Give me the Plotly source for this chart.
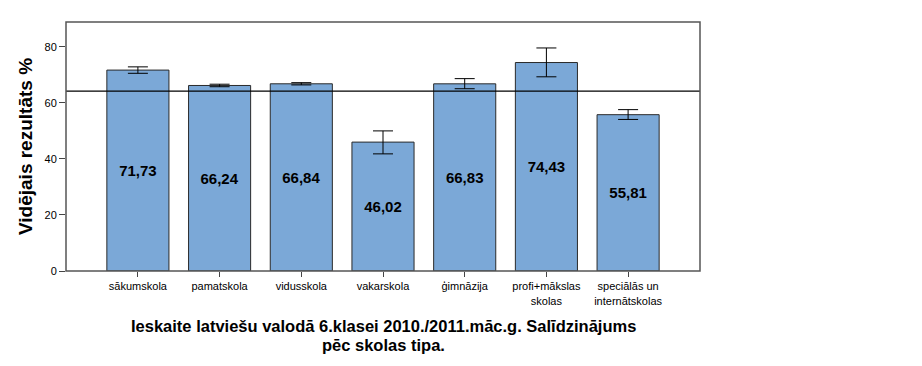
import plotly.graph_objects as go

categories = ["sākumskola", "pamatskola", "vidusskola", "vakarskola", "ģimnāzija",
              "profi+mākslas<br>skolas", "speciālās un<br>internātskolas"]
means = [71.73, 66.24, 66.84, 46.02, 66.83, 74.43, 55.81]
err_plus = [1.15, 0.45, 0.4, 4.0, 1.85, 5.2, 1.8]
err_minus = [1.15, 0.45, 0.4, 4.2, 1.75, 5.1, 1.7]
labels = ["71,73", "66,24", "66,84", "46,02", "66,83", "74,43", "55,81"]
overall_mean = 64.2
y_ticks = [0, 20, 40, 60, 80]
title_lines = ["Ieskaite latviešu valodā 6.klasei 2010./2011.māc.g. Salīdzinājums",
               "pēc skolas tipa."]

x = list(range(len(categories)))
FONT = "Liberation Sans, Arial"

fig = go.Figure()
fig.add_trace(go.Bar(
    x=x, y=means, width=0.76,
    marker=dict(color="#7ba8d7", line=dict(color="#2a2a2a", width=1)),
    text=["<b>" + t + "</b>" for t in labels], textposition="inside", insidetextanchor="middle",
    textfont=dict(family=FONT, size=15, color="black"),
    error_y=dict(type="data", symmetric=False, array=err_plus, arrayminus=err_minus,
                 color="black", thickness=1, width=10),
    hoverinfo="skip",
))
fig.add_shape(type="line", xref="paper", x0=0, x1=1, yref="y", y0=overall_mean, y1=overall_mean,
              line=dict(color="black", width=1.2))
fig.add_shape(type="rect", xref="paper", yref="paper", x0=0, x1=1, y0=0, y1=1,
              line=dict(color="#555555", width=1.5))

fig.update_layout(
    width=914, height=358,
    margin=dict(l=58, r=222, t=14, b=95),
    paper_bgcolor="white", plot_bgcolor="white",
    showlegend=False,
    font=dict(family=FONT, size=11, color="black"),
    xaxis=dict(range=[-0.88, 6.88], tickmode="array", tickvals=x, ticktext=categories,
               ticks="outside", ticklen=5, tickcolor="#444444", showgrid=False, zeroline=False,
               tickfont=dict(size=11), showline=False),
    yaxis=dict(range=[0, 88.9], tickmode="array", tickvals=y_ticks,
               ticks="outside", ticklen=6, tickcolor="#444444", showgrid=False, zeroline=False,
               showline=False, tickfont=dict(size=11), automargin=False,
               title=dict(text="<b>Vidējais rezultāts %</b>", font=dict(size=19, family=FONT),
                          standoff=6)),
    annotations=[dict(text="<b>" + line + "</b>", xref="paper", yref="paper", x=0.5, y=yy,
                      xanchor="center", yanchor="middle", showarrow=False,
                      font=dict(size=16.5, family=FONT))
                 for line, yy in zip(title_lines, [-0.221, -0.297])],
)
fig.write_html("out.html")
